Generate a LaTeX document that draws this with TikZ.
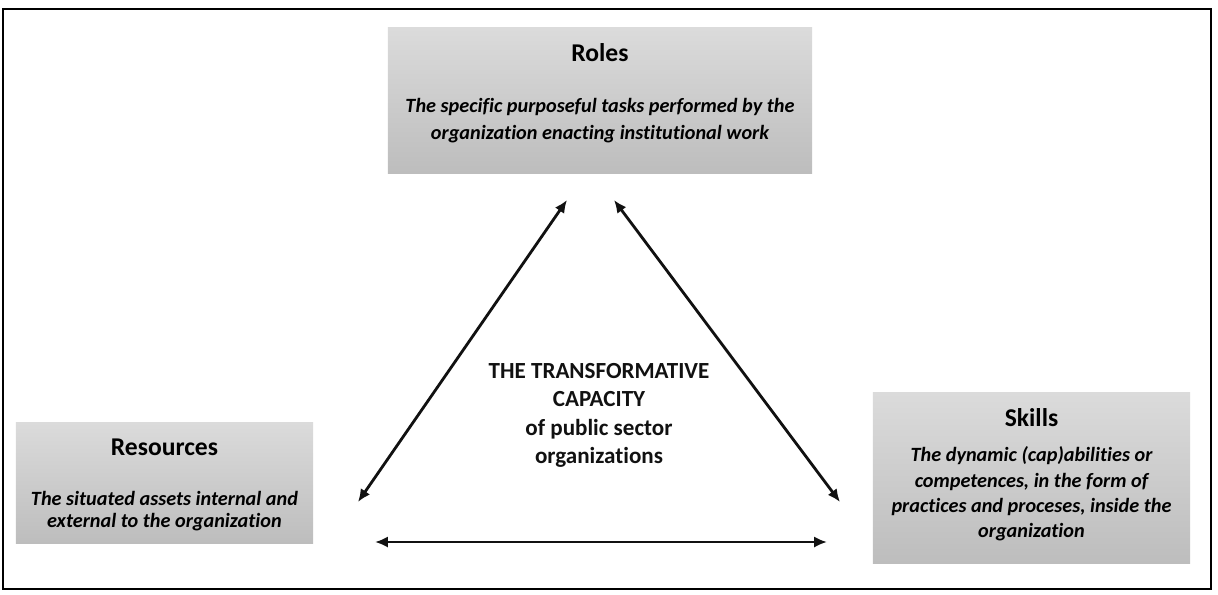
\documentclass[tikz,border=0pt]{standalone}
\usepackage{fontspec}
\setmainfont{Carlito}[Ligatures=NoCommon]
\usetikzlibrary{arrows.meta}
\definecolor{boxtop}{HTML}{DBDBDB}
\definecolor{boxbot}{HTML}{BDBDBD}
\definecolor{dark}{HTML}{111111}

\begin{document}
\begin{tikzpicture}[
  x=0.025cm, y=-0.025cm,
  box/.style={top color=boxtop, bottom color=boxbot, align=center, inner sep=0pt, text=dark},
  title/.style={font=\fontsize{18.2}{22}\selectfont\bfseries},
  desc/.style={font=\fontsize{14.4}{#1}\selectfont\bfseries\itshape},
  link/.style={{Latex[length=3.2mm,width=2.8mm]}-{Latex[length=3.2mm,width=2.8mm]}, line width=2pt, draw=dark},
  center/.style={align=center, text=dark, font=\fontsize{16.4}{20.3}\selectfont\bfseries}
]
\useasboundingbox (0,0) rectangle (1218,594);
\draw[line width=1.7pt] (3,9) rectangle (1211,589);

\node[box,minimum width=10.6cm,minimum height=3.625cm] (roles) at (600,100.5) {};
\node[title] (rolesT) at (600,53) {Roles};
\node[desc=19.2,align=center] (rolesD) at (600,121) {
  The specific purposeful tasks performed by the\\
  organization enacting institutional work
};

\node[box,minimum width=7.425cm,minimum height=3cm] (res) at (164.5,483) {};
\node[title] (resT) at (164.5,447) {Resources};
\node[desc=15.6,align=center] (resD) at (164.5,511) {
  The situated assets internal and\\
  external to the organization
};

\node[box,minimum width=7.925cm,minimum height=4.25cm] (skills) at (1031.5,478) {};
\node[title] (skillsT) at (1031.5,418) {Skills};
\node[desc=18.1,align=center] (skillsD) at (1031.5,494) {
  The dynamic (cap)abilities or\\
  competences, in the form of\\
  practices and proceses, inside the\\
  organization
};

\node[center] (core) at (599,415.5) {
  THE TRANSFORMATIVE\\
  CAPACITY\\
  of public sector\\
  organizations
};

% arrow ends, kept off the boxes
\coordinate (roles-l) at (567,200);
\coordinate (roles-r) at (614,200);
\coordinate (res-top) at (358,502);
\coordinate (res-side) at (375,542);
\coordinate (skills-top) at (840,502);
\coordinate (skills-side) at (827,542);

\draw[link] (roles-l) -- (res-top);
\draw[link] (roles-r) -- (skills-top);
\draw[link] (res-side) -- (skills-side);

\end{tikzpicture}
\end{document}
